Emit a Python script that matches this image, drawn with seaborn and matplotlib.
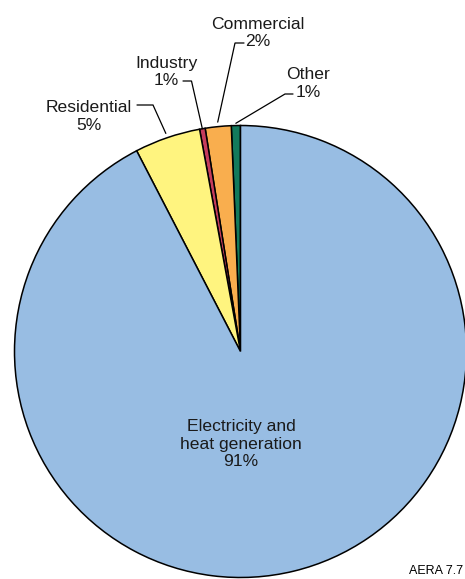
import numpy as np
import matplotlib
matplotlib.use("Agg")
import matplotlib.pyplot as plt
import seaborn as sns

# shares (counterclockwise from 12 o'clock)
sectors = ["Other", "Commercial", "Industry", "Residential", "Electricity and\nheat generation"]
shares = [0.65, 1.85, 0.4, 4.7, 92.4]
pct_labels = ["1%", "2%", "1%", "5%", "91%"]
colors = ["#137a5c", "#f9ae4e", "#c63c5c", "#fff47f", "#98bde3"]

W, H = 465, 579

sns.set_theme(style="white")
plt.rcParams["font.family"] = ["Liberation Sans", "DejaVu Sans"]

fig = plt.figure(figsize=(W / 100, H / 100), dpi=100)
ax = fig.add_axes([0, 0, 1, 1])

cx, cy, r = 240.5, H - 351.5, 226
wedges, _ = ax.pie(shares, colors=colors, startangle=90, counterclock=True,
                   center=(cx, cy), radius=r, frame=True,
                   wedgeprops=dict(edgecolor="black", linewidth=1.1))
ax.set_xlim(0, W)
ax.set_ylim(0, H)
ax.set_aspect("equal")
ax.axis("off")


def py(y):
    return H - y


def anchor(w, k=1.0):
    th = np.deg2rad((w.theta1 + w.theta2) / 2)
    return cx + r * k * np.cos(th), cy + r * k * np.sin(th)


txt = dict(ha="center", va="center", fontsize=12.6, color="#1a1a1a", linespacing=1.18)

# (text x, text y, line start x, elbow x, line y, anchor radius factor)
callouts = {
    "Other": (308, 83.5, 293, 285, 94, 1.01),
    "Commercial": (258, 33, 244, 235, 43, 1.02),
    "Industry": (166, 72, 183, 191.5, 81, 1.0),
    "Residential": (89, 116.5, 137, 153, 105, 1.02),
}
for i, name in enumerate(sectors[:4]):
    tx, ty, sx, ex, ly, k = callouts[name]
    ax.text(tx, py(ty), f"{name}\n{pct_labels[i]}", **txt)
    axx, ayy = anchor(wedges[i], k)
    ax.plot([sx, ex, axx], [py(ly), py(ly), ayy], color="black", lw=0.9,
            solid_joinstyle="miter")

ax.text(241, py(444), f"{sectors[4]}\n{pct_labels[4]}", **txt)
ax.text(463, py(571), "AERA 7.7", ha="right", va="center", fontsize=9, color="black")

fig.savefig("out.png", dpi=100)
